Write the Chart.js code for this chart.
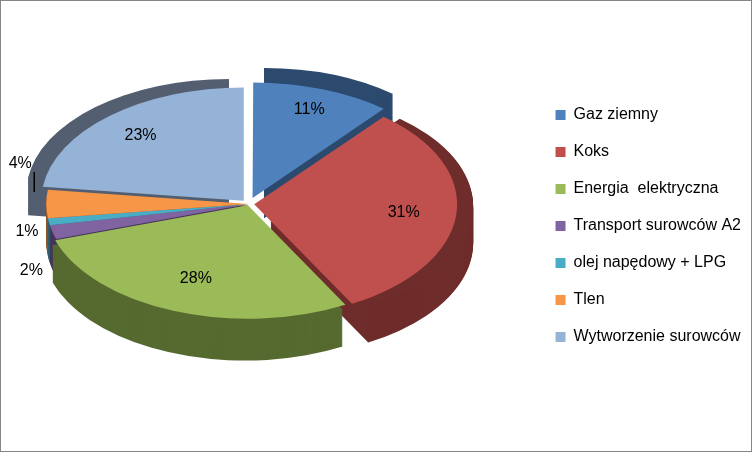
<!DOCTYPE html>
<html><head><meta charset="utf-8">
<script src="https://cdn.jsdelivr.net/npm/chart.js"></script>
<style>
body{margin:0;background:#fff}
#wrap{width:750px;height:450px;border:1px solid #868686}
</style></head>
<body><div id="wrap"><canvas id="pie" width="750" height="450"></canvas></div>
<script>
var categories = ['Gaz ziemny', 'Koks', 'Energia  elektryczna', 'Transport surowców A2', 'olej napędowy + LPG', 'Tlen', 'Wytworzenie surowców'];
var shares = [11, 31, 28, 2, 1, 4, 23];
var colors = ['#4f81bd', '#c0504d', '#9bbb59', '#8064a2', '#4bacc6', '#f79646', '#95b3d7'];
var sides = ['#2c4a6e', '#6e2c2a', '#566a30', '#45365a', '#2a6170', '#8d5427', '#535f70'];
var offsets = [45, 22, 10, 0, 0, 0, 30];

var K = 0.56, DEPTH = 38, SHIFTX = -30, SHIFTY = -22;

var pie3d = {
    id: 'pie3d',
    beforeDatasetsDraw: function (chart) {
        var ctx = chart.ctx;
        var arcs = chart.getDatasetMeta(0).data;
        var cx = arcs[0].x, cy = arcs[0].y;
        ctx.save();
        ctx.translate(cx + SHIFTX, cy + SHIFTY);
        ctx.scale(1, K);
        ctx.translate(-cx, -cy);
        for (var d = DEPTH; d > 0; d--) {
            arcs.forEach(function (a, i) {
                var mid = (a.startAngle + a.endAngle) / 2;
                var ox = a.x + Math.cos(mid) * offsets[i];
                var oy = a.y + Math.sin(mid) * offsets[i] + d / K;
                ctx.beginPath();
                ctx.moveTo(ox, oy);
                ctx.arc(ox, oy, a.outerRadius, a.startAngle, a.endAngle);
                ctx.closePath();
                ctx.fillStyle = sides[i];
                ctx.fill();
            });
        }
    },
    afterDatasetsDraw: function (chart) {
        var ctx = chart.ctx;
        ctx.restore();
        var arcs = chart.getDatasetMeta(0).data;
        ctx.font = '16px "Liberation Sans"';
        ctx.fillStyle = '#000';
        ctx.textAlign = 'center';
        ctx.textBaseline = 'middle';
        arcs.forEach(function (a, i) {
            var mid = (a.startAngle + a.endAngle) / 2;
            var r = shares[i] < 5 ? a.outerRadius + 22 : a.outerRadius * 0.66;
            var px = a.x + SHIFTX + Math.cos(mid) * (r + offsets[i]);
            var py = a.y + SHIFTY + Math.sin(mid) * (r + offsets[i]) * K;
            if (i === 3) { py += 35; }
            if (i === 4) { py += 8; }
            if (i === 5) { py -= 40; px -= 4; }
            ctx.fillText(shares[i] + '%', px, py);
            if (i === 5) {
                ctx.beginPath();
                ctx.moveTo(px + 14, py + 8);
                ctx.lineTo(px + 14, py + 28);
                ctx.strokeStyle = '#000';
                ctx.lineWidth = 1.5;
                ctx.stroke();
            }
        });
    }
};

var ctx = document.getElementById('pie');
var chart = new Chart(ctx, {
    type: 'pie',
    data: {
        labels: categories,
        datasets: [{
            data: shares,
            backgroundColor: colors,
            borderWidth: 0,
            offset: offsets
        }]
    },
    options: {
        responsive: false,
        animation: false,
        layout: { padding: { left: 22, right: 0, top: 0, bottom: 0 } },
        plugins: {
            tooltip: { enabled: false },
            legend: {
                position: 'right',
                align: 'center',
                labels: {
                    boxWidth: 10, boxHeight: 10, padding: 21,
                    color: '#000',
                    font: { family: 'Liberation Sans', size: 16 }
                }
            }
        }
    },
    plugins: [pie3d]
});
</script>
</body></html>
